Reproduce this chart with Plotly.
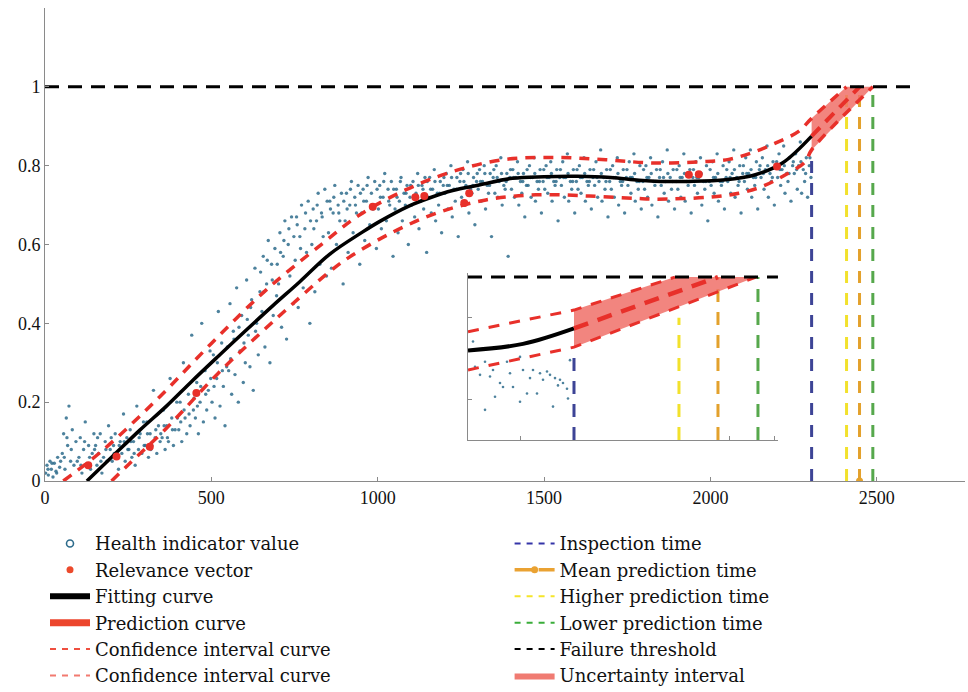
import plotly.graph_objects as go

# ---------------- data ----------------
# health indicator samples (cycle, HI value)
HI_POINTS = [
    (2,.02),(6,.04),(10,.015),(15,.05),(19,.03),(24,.01),(28,.045),(33,.025),(38,.06),(44,.035),
    (52,.07),(56,.12),(60,.03),(64,.16),(68,.09),(72,.19),(77,.05),(82,.13),(87,.04),(93,.1),
    (102,.06),(106,.11),(111,.02),(116,.08),(121,.15),(126,.04),(131,.09),(137,.03),(142,.07),(147,.12),
    (152,.09),(156,.04),(161,.07),(166,.12),(171,.02),(176,.06),(181,.1),(186,.05),(191,.14),(196,.08),
    (202,.05),(206,.09),(211,.12),(216,.06),(221,.03),(226,.1),(231,.07),(236,.17),(241,.05),(246,.11),
    (252,.08),(256,.13),(261,.06),(266,.1),(271,.04),(276,.19),(281,.08),(286,.12),(291,.07),(296,.15),
    (302,.09),(306,.15),(311,.06),(316,.12),(321,.09),(326,.23),(331,.11),(336,.07),(341,.14),(346,.1),
    (352,.11),(356,.18),(361,.08),(366,.14),(371,.1),(376,.26),(381,.16),(386,.09),(391,.13),(396,.2),
    (402,.13),(406,.2),(411,.1),(416,.3),(421,.16),(426,.12),(431,.22),(436,.14),(441,.37),(446,.18),
    (452,.16),(456,.25),(461,.12),(466,.2),(471,.4),(476,.15),(481,.28),(486,.18),(491,.23),(496,.33),
    (502,.2),(506,.32),(511,.16),(516,.26),(521,.43),(526,.19),(531,.35),(536,.24),(541,.14),(546,.29),
    (552,.28),(556,.45),(561,.22),(566,.38),(571,.27),(576,.49),(581,.2),(586,.33),(591,.42),(596,.25),
    (602,.3),(606,.51),(611,.37),(616,.29),(621,.46),(626,.23),(631,.54),(636,.4),(641,.32),(646,.48),
    (652,.43),(656,.57),(661,.34),(666,.5),(671,.61),(676,.3),(681,.55),(686,.42),(691,.59),(696,.47),
    (702,.5),(706,.63),(711,.39),(716,.57),(721,.66),(726,.36),(731,.6),(736,.52),(741,.67),(746,.45),
    (752,.56),(756,.67),(761,.44),(766,.62),(771,.7),(776,.49),(781,.64),(786,.58),(791,.71),(796,.4),
    (802,.6),(806,.69),(811,.48),(816,.66),(821,.73),(826,.55),(831,.68),(836,.62),(841,.74),(846,.52),
    (852,.63),(856,.71),(861,.54),(866,.68),(871,.75),(876,.6),(881,.7),(886,.66),(891,.73),(896,.5),
    (902,.66),(906,.73),(911,.58),(916,.7),(921,.76),(926,.63),(931,.72),(936,.68),(941,.75),(946,.55),
    (952,.68),(956,.74),(961,.61),(966,.71),(971,.77),(976,.65),(981,.73),(986,.69),(991,.76),(996,.59),
    (1002,.69),(1006,.75),(1011,.64),(1016,.72),(1021,.78),(1026,.66),(1031,.74),(1036,.7),(1041,.76),(1046,.57),
    (1052,.69),(1056,.74),(1061,.63),(1065,.71),(1070,.77),(1074,.66),(1079,.73),(1083,.7),(1088,.75),(1092,.6),(1097,.72),
    (1102,.7),(1106,.76),(1111,.67),(1115,.73),(1120,.78),(1124,.64),(1129,.71),(1133,.75),(1138,.69),(1142,.77),(1147,.58),
    (1152,.72),(1156,.77),(1161,.68),(1165,.74),(1170,.79),(1174,.66),(1179,.73),(1183,.7),(1188,.76),(1192,.63),(1197,.75),
    (1202,.73),(1206,.78),(1211,.69),(1215,.75),(1220,.8),(1224,.67),(1229,.74),(1233,.71),(1238,.77),(1242,.62),(1247,.76),
    (1252,.72),(1256,.79),(1261,.7),(1265,.75),(1270,.81),(1274,.68),(1279,.74),(1283,.73),(1288,.77),(1292,.65),(1297,.76),
    (1302,.74),(1306,.79),(1311,.71),(1315,.76),(1320,.8),(1324,.69),(1329,.75),(1333,.73),(1338,.78),(1342,.62),(1347,.77),
    (1352,.73),(1356,.8),(1361,.72),(1365,.76),(1370,.82),(1374,.7),(1379,.75),(1383,.74),(1388,.78),(1392,.57),(1397,.77),
    (1402,.74),(1406,.79),(1411,.72),(1415,.77),(1420,.81),(1424,.7),(1429,.76),(1433,.73),(1438,.78),(1442,.67),(1447,.75),
    (1452,.75),(1456,.8),(1461,.72),(1465,.77),(1470,.82),(1474,.71),(1479,.76),(1483,.74),(1488,.79),(1492,.68),(1497,.76),
    (1502,.74),(1506,.8),(1511,.73),(1515,.77),(1520,.81),(1524,.71),(1529,.76),(1533,.75),(1538,.79),(1542,.66),(1547,.77),
    (1552,.75),(1556,.81),(1561,.72),(1565,.77),(1570,.83),(1574,.71),(1579,.76),(1583,.74),(1588,.79),(1592,.68),(1597,.76),
    (1602,.74),(1606,.8),(1611,.73),(1615,.77),(1620,.82),(1624,.71),(1629,.76),(1633,.75),(1638,.79),(1642,.69),(1647,.77),
    (1652,.75),(1656,.81),(1661,.72),(1665,.76),(1670,.84),(1674,.71),(1679,.77),(1683,.74),(1688,.79),(1692,.67),(1697,.76),
    (1702,.74),(1706,.8),(1711,.72),(1715,.77),(1720,.82),(1724,.7),(1729,.76),(1733,.75),(1738,.79),(1742,.68),(1747,.77),
    (1752,.75),(1756,.81),(1761,.73),(1765,.77),(1770,.83),(1774,.71),(1779,.76),(1783,.74),(1788,.8),(1792,.69),(1797,.76),
    (1802,.74),(1806,.8),(1811,.72),(1815,.77),(1820,.82),(1824,.7),(1829,.76),(1833,.75),(1838,.79),(1842,.67),(1847,.77),
    (1852,.75),(1856,.81),(1861,.73),(1865,.76),(1870,.84),(1874,.71),(1879,.77),(1883,.74),(1888,.79),(1892,.69),(1897,.76),
    (1902,.74),(1906,.8),(1911,.72),(1915,.77),(1920,.83),(1924,.71),(1929,.76),(1933,.75),(1938,.79),(1942,.68),(1947,.77),
    (1952,.75),(1956,.81),(1961,.73),(1965,.77),(1970,.82),(1974,.7),(1979,.76),(1983,.74),(1988,.8),(1992,.66),(1997,.76),
    (2002,.75),(2006,.81),(2011,.73),(2015,.77),(2020,.83),(2024,.71),(2029,.76),(2033,.75),(2038,.8),(2042,.69),(2047,.77),
    (2052,.76),(2056,.81),(2061,.73),(2065,.78),(2070,.84),(2074,.72),(2079,.77),(2083,.75),(2088,.8),(2092,.68),(2097,.78),
    (2102,.76),(2106,.82),(2111,.74),(2115,.78),(2120,.84),(2124,.72),(2129,.77),(2133,.75),(2138,.81),(2142,.69),(2147,.79),
    (2152,.77),(2156,.82),(2161,.74),(2165,.79),(2170,.85),(2174,.72),(2179,.78),(2183,.76),(2188,.81),(2192,.7),(2197,.8),
    (2202,.77),(2206,.83),(2211,.75),(2215,.79),(2220,.85),(2224,.73),(2229,.78),(2233,.76),(2238,.82),(2242,.71),(2247,.8),
    (2252,.78),(2256,.83),(2261,.74),(2265,.8),(2270,.86),(2274,.73),(2279,.79),(2283,.76),(2288,.82),(2292,.72),(2297,.8),(2302,.77),
]
# additional samples filling the denser parts of the cloud
HI_POINTS_EXTRA = [
    (9,.03),(21,.045),(35,.02),(47,.05),(58,.06),(66,.11),(79,.08),(97,.05),(108,.04),(119,.1),(134,.06),(149,.08),
    (158,.11),(168,.05),(183,.08),(199,.11),(208,.07),(223,.09),(238,.1),(249,.08),(258,.1),(268,.07),(283,.11),(298,.09),
    (308,.12),(318,.08),(333,.13),(348,.12),(358,.14),(368,.11),(383,.13),(398,.16),(408,.15),(418,.18),(433,.17),(448,.21),
    (458,.19),(468,.24),(483,.22),(498,.26),(508,.24),(518,.3),(533,.28),(548,.34),(558,.31),(568,.36),(583,.39),(598,.35),
    (608,.41),(618,.44),(633,.38),(648,.53),(658,.48),(668,.56),(683,.51),(698,.55),(708,.58),(718,.61),(733,.64),(748,.62),
    (758,.65),(768,.59),(783,.68),(798,.66),(808,.64),(818,.7),(833,.67),(848,.71),(858,.69),(868,.72),(883,.68),(898,.71),
    (908,.69),(918,.74),(933,.7),(948,.73),(958,.71),(968,.75),(983,.7),(998,.74),(1008,.72),(1018,.76),(1033,.71),(1048,.74),
    (1058,.72),(1068,.76),(1085,.73),(1099,.75),(1109,.72),(1122,.75),(1136,.74),(1149,.76),(1159,.74),(1172,.76),(1186,.73),(1199,.77),
    (1209,.75),(1222,.77),(1236,.74),(1249,.78),(1259,.76),(1272,.78),(1286,.75),(1299,.78),(1309,.76),(1322,.78),(1336,.75),(1349,.79),
    (1359,.77),(1372,.78),(1386,.76),(1399,.79),(1409,.77),(1422,.78),(1436,.76),(1449,.79),(1459,.77),(1472,.78),(1486,.76),(1499,.79),
    (1509,.77),(1522,.78),(1536,.76),(1549,.79),(1559,.77),(1572,.78),(1586,.76),(1599,.79),(1609,.77),(1622,.78),(1636,.76),(1649,.79),
    (1659,.77),(1672,.78),(1686,.76),(1699,.79),(1709,.77),(1722,.78),(1736,.76),(1749,.79),(1759,.77),(1772,.78),(1786,.76),(1799,.79),
    (1809,.77),(1822,.78),(1836,.76),(1849,.79),(1859,.77),(1872,.78),(1886,.76),(1899,.79),(1909,.77),(1922,.78),(1936,.76),(1949,.79),
    (1959,.77),(1972,.78),(1986,.76),(1999,.79),(2009,.77),(2022,.78),(2036,.76),(2049,.79),(2059,.77),(2072,.79),(2086,.76),(2099,.8),
    (2109,.78),(2122,.79),(2136,.77),(2149,.8),(2159,.78),(2172,.8),(2186,.77),(2199,.81),(2209,.79),(2222,.8),(2236,.78),(2249,.81),
    (2259,.79),(2272,.81),(2286,.78),(2299,.82),
]

# relevance vectors
RV_T = [130, 215, 315, 455, 985, 1113, 1140, 1260, 1275, 1935, 1965, 2200]
RV_HI = [0.04, 0.062, 0.087, 0.223, 0.696, 0.72, 0.723, 0.705, 0.73, 0.777, 0.778, 0.798]

# fitted curve
FIT_T = [126, 200, 285, 365, 440, 520, 605, 685, 765, 855, 955, 1005, 1095, 1155, 1225,
         1305, 1405, 1500, 1600, 1700, 1785, 1850, 1935, 2045, 2135, 2215, 2304]
FIT_HI = [0.0, 0.06, 0.129, 0.19, 0.252, 0.316, 0.383, 0.445, 0.505, 0.575, 0.632, 0.658, 0.698, 0.718, 0.737,
          0.751, 0.768, 0.772, 0.773, 0.77, 0.763, 0.76, 0.76, 0.764, 0.777, 0.806, 0.875]

# confidence interval bounds (continuing into the prediction zone)
UPPER_T = [55, 175, 345, 500, 665, 835, 945, 1085, 1225, 1375, 1535, 1685, 1825, 1975, 2055,
           2125, 2195, 2265, 2304, 2409]
UPPER_HI = [0.0, 0.079, 0.214, 0.349, 0.485, 0.603, 0.675, 0.739, 0.785, 0.815, 0.821, 0.815, 0.807, 0.81, 0.816,
            0.833, 0.857, 0.887, 0.92, 1.0]
LOWER_T = [200, 255, 365, 520, 685, 855, 915, 1040, 1175, 1325, 1475, 1635, 1775, 1835, 1995,
           2085, 2155, 2215, 2285, 2304, 2488]
LOWER_HI = [0.0, 0.045, 0.134, 0.273, 0.404, 0.531, 0.568, 0.629, 0.679, 0.713, 0.726, 0.723, 0.717, 0.715, 0.72,
            0.73, 0.747, 0.772, 0.81, 0.84, 1.0]

# prediction after the inspection time
MEAN_T = [2304, 2448]
MEAN_HI = [0.875, 1.0]
BAND_UP_T = [2304, 2409, 2488]
BAND_UP = [0.92, 1.0, 1.0]
BAND_LO_T = [2304, 2488]
BAND_LO = [0.84, 1.0]

T_INSPECT = 2304
T_HIGH = 2409
T_MEAN = 2448
T_LOW = 2488
THRESHOLD = 1.0
THRESHOLD_END = 2610

X_TICKS = [0, 500, 1000, 1500, 2000, 2500]
Y_TICKS = [0, 0.2, 0.4, 0.6, 0.8, 1]
Y_TICK_TEXT = ["0", "0.2", "0.4", "0.6", "0.8", "1"]

# zoomed detail around the prediction zone
IN_PTS = [(2203,.921),(2215,.837),(2223,.886),(2225,.853),(2230,.870),(2240,.882),(2250,.847),
          (2257,.857),(2267,.857),(2270,.882),(2273,.874),(2280,.880),(2283,.841),(2288,.867),
          (2290,.874),(2297,.863),(2298,.851),(2300,.898),(2205,.890),(2210,.880),(2220,.878),
          (2233,.865),(2243,.865),(2253,.886),(2260,.876),(2263,.886),(2277,.884),(2285,.876),
          (2293,.870),(2237,.896),(2215,.896),(2250,.902)]
IN_FIT_T = [2198, 2253, 2304]
IN_FIT = [0.910, 0.918, 0.937]
IN_UP_T = [2198, 2304, 2405]
IN_UP = [0.933, 0.9595, 1.0]
IN_LO_T = [2198, 2304, 2486]
IN_LO = [0.886, 0.914, 1.0]
IN_MEAN_T = [2304, 2448]
IN_MEAN = [0.937, 1.0]
IN_BAND_UP_T = [2304, 2405, 2486]
IN_BAND_UP = [0.9595, 1.0, 1.0]
IN_BAND_LO_T = [2304, 2486]
IN_BAND_LO = [0.914, 1.0]

# ---------------- styling ----------------
FONT = "Liberation Serif"
LEGEND_FONT = "DejaVu Serif"
C_HI = "rgba(46,108,140,0.85)"
C_RED = "#e8302a"
C_BAND = "rgba(240,112,104,0.85)"
C_INSPECT = "#3d4496"
C_HIGH = "#f2e12c"
C_MEAN = "#e3a12c"
C_LOW = "#56a84c"

fig = go.Figure()


def vline(t, y0, y1, color, xa="x", ya="y", dash="12px,10px", width=3):
    fig.add_trace(go.Scatter(x=[t, t], y=[y0, y1], mode="lines", xaxis=xa, yaxis=ya,
                             line=dict(color=color, width=width, dash=dash),
                             showlegend=False, hoverinfo="skip"))


# ---- main panel ----
all_pts = HI_POINTS + HI_POINTS_EXTRA
fig.add_trace(go.Scatter(x=[p[0] for p in all_pts], y=[p[1] for p in all_pts], mode="markers",
                         marker=dict(size=3.4, color=C_HI), showlegend=False))
vline(T_INSPECT, 0, 0.84, C_INSPECT)
vline(T_HIGH, 0, 1.0, C_HIGH)
vline(T_LOW, 0, 1.0, C_LOW)
vline(T_MEAN, 0, 1.0, C_MEAN)
fig.add_trace(go.Scatter(x=[T_MEAN], y=[0], mode="markers", marker=dict(size=7, color=C_MEAN),
                         showlegend=False, hoverinfo="skip"))
fig.add_trace(go.Scatter(x=BAND_UP_T + BAND_LO_T[::-1], y=BAND_UP + BAND_LO[::-1], mode="lines",
                         fill="toself", fillcolor=C_BAND, line=dict(width=0), showlegend=False,
                         hoverinfo="skip"))
fig.add_trace(go.Scatter(x=FIT_T, y=FIT_HI, mode="lines", line=dict(color="black", width=3.5, shape="spline"),
                         showlegend=False))
fig.add_trace(go.Scatter(x=UPPER_T, y=UPPER_HI, mode="lines",
                         line=dict(color=C_RED, width=3.5, dash="10px,8px", shape="spline"), showlegend=False))
fig.add_trace(go.Scatter(x=LOWER_T, y=LOWER_HI, mode="lines",
                         line=dict(color=C_RED, width=3.5, dash="10px,8px", shape="spline"), showlegend=False))
fig.add_trace(go.Scatter(x=MEAN_T, y=MEAN_HI, mode="lines",
                         line=dict(color=C_RED, width=4, dash="12px,8px"), showlegend=False))
fig.add_trace(go.Scatter(x=[0, THRESHOLD_END], y=[THRESHOLD, THRESHOLD], mode="lines",
                         line=dict(color="black", width=3, dash="14px,9px"), showlegend=False))
fig.add_trace(go.Scatter(x=RV_T, y=RV_HI, mode="markers", marker=dict(size=8, color=C_RED),
                         showlegend=False))

# ---- inset panel ----
fig.add_trace(go.Scatter(x=[p[0] for p in IN_PTS], y=[p[1] for p in IN_PTS], mode="markers",
                         xaxis="x2", yaxis="y2", marker=dict(size=2.6, color=C_HI), showlegend=False))
vline(T_INSPECT, 0.8, 0.914, C_INSPECT, "x2", "y2", "13px,10px")
vline(T_HIGH, 0.8, 0.95, C_HIGH, "x2", "y2", "13px,10px")
vline(T_MEAN, 0.8, 1.0, C_MEAN, "x2", "y2", "13px,10px")
vline(T_LOW, 0.8, 1.0, C_LOW, "x2", "y2", "13px,10px")
fig.add_trace(go.Scatter(x=IN_BAND_UP_T + IN_BAND_LO_T[::-1], y=IN_BAND_UP + IN_BAND_LO[::-1],
                         mode="lines", xaxis="x2", yaxis="y2", fill="toself", fillcolor=C_BAND,
                         line=dict(width=0), showlegend=False, hoverinfo="skip"))
fig.add_trace(go.Scatter(x=IN_FIT_T, y=IN_FIT, mode="lines", xaxis="x2", yaxis="y2",
                         line=dict(color="black", width=4, shape="spline"), showlegend=False))
for tx, ty in ((IN_UP_T, IN_UP), (IN_LO_T, IN_LO)):
    fig.add_trace(go.Scatter(x=tx, y=ty, mode="lines", xaxis="x2", yaxis="y2",
                             line=dict(color=C_RED, width=3, dash="11px,10px"), showlegend=False))
fig.add_trace(go.Scatter(x=IN_MEAN_T, y=IN_MEAN, mode="lines", xaxis="x2", yaxis="y2",
                         line=dict(color=C_RED, width=4.5, dash="15px,10px"), showlegend=False))
fig.add_trace(go.Scatter(x=[2198, 2508], y=[THRESHOLD, THRESHOLD], mode="lines", xaxis="x2", yaxis="y2",
                         line=dict(color="black", width=3, dash="14px,9px"), showlegend=False))

# ---- legend entries ----
LEFT = [
    ("Health indicator value", dict(mode="markers", marker=dict(symbol="circle-open", size=7,
                                                                 color="#2e6c8c", line=dict(width=1.6)))),
    ("Relevance vector", dict(mode="markers", marker=dict(size=7, color="#ec4a2c"))),
    ("Fitting curve", dict(mode="lines", line=dict(color="black", width=6))),
    ("Prediction curve", dict(mode="lines", line=dict(color="#ec452c", width=7))),
    ("Confidence interval curve", dict(mode="lines", line=dict(color="#ef4f3f", width=2, dash="6px,6px"))),
    ("Confidence interval curve", dict(mode="lines", line=dict(color="#f27a70", width=2, dash="6px,6px"))),
]
RIGHT = [
    ("Inspection time", dict(mode="lines", line=dict(color="#3434a8", width=2, dash="6px,6px"))),
    ("Mean prediction time", dict(mode="lines+markers", line=dict(color="#eaa232", width=3.5, dash="18px,6px"),
                                  marker=dict(size=7, color="#eaa232"))),
    ("Higher prediction time", dict(mode="lines", line=dict(color="#f5e52a", width=2, dash="6px,6px"))),
    ("Lower prediction time", dict(mode="lines", line=dict(color="#3aad3a", width=2, dash="6px,6px"))),
    ("Failure threshold", dict(mode="lines", line=dict(color="black", width=2, dash="6px,6px"))),
    ("Uncertainty interval", dict(mode="lines", fill="toself", fillcolor="#f07b72", line=dict(width=0))),
]
for i, (name, kw) in enumerate(LEFT):
    fig.add_trace(go.Scatter(x=[None], y=[None], name=name, legend="legend", **kw))
for i, (name, kw) in enumerate(RIGHT):
    fig.add_trace(go.Scatter(x=[None], y=[None], name=name, legend="legend2", **kw))

axis_common = dict(showgrid=False, zeroline=False, showline=True, linecolor="#8a8a8a", linewidth=1,
                   ticks="inside", ticklen=4, tickcolor="#8a8a8a",
                   tickfont=dict(family=FONT, size=18, color="#111"))
inset_axis = {k: v for k, v in axis_common.items() if k != "tickfont"}
legend_common = dict(font=dict(family=LEGEND_FONT, size=18, color="#111"), bgcolor="rgba(0,0,0,0)",
                     yanchor="top", xanchor="left", itemwidth=40, traceorder="normal")

fig.update_layout(
    width=968, height=692,
    margin=dict(l=45, r=3, t=8, b=211, autoexpand=False),
    plot_bgcolor="white", paper_bgcolor="white",
    xaxis=dict(range=[0, 2765], tickvals=X_TICKS, **axis_common),
    yaxis=dict(range=[0, 1.2], tickvals=Y_TICKS, ticktext=Y_TICK_TEXT, **axis_common),
    xaxis2=dict(domain=[0.4598, 0.7967], anchor="y2", range=[2198, 2508], tickvals=[2250, 2460, 2505],
                showticklabels=False, **inset_axis),
    yaxis2=dict(domain=[0.0867, 0.4397], anchor="x2", range=[0.8, 1.005], tickvals=[0.85, 0.95],
                showticklabels=False, **inset_axis),
    legend=dict(x=0.0, y=-0.0935, **legend_common),
    legend2=dict(x=0.505, y=-0.0935, **legend_common),
    hovermode=False,
)

fig.write_html("out.html")
